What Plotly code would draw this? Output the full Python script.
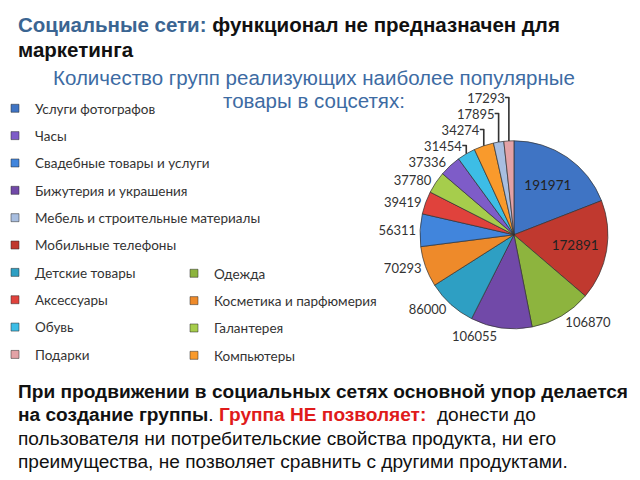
import plotly.graph_objects as go

# ---- data ----
categories = [
    "Услуги фотографов", "Мобильные телефоны", "Одежда", "Бижутерия и украшения",
    "Детские товары", "Косметика и парфюмерия", "Свадебные товары и услуги",
    "Аксессуары", "Галантерея", "Часы", "Обувь", "Компьютеры",
    "Мебель и строительные материалы", "Подарки",
]
values = [191971, 172891, 106870, 106055, 86000, 70293, 56311,
          39419, 37780, 37336, 31454, 34274, 17895, 17293]
legend_left = [
    "Услуги фотографов", "Часы", "Свадебные товары и услуги",
    "Бижутерия и украшения", "Мебель и строительные материалы",
    "Мобильные телефоны", "Детские товары", "Аксессуары", "Обувь", "Подарки",
]
legend_right = ["Одежда", "Косметика и парфюмерия", "Галантерея", "Компьютеры"]

# ---- style ----
slice_colors = ["#3F74C4", "#C0392F", "#8DB43E", "#7149A8", "#2E9FC3", "#EE8A2A",
                "#4185DC", "#E0423C", "#A6CD4C", "#7E5CC8", "#3DBDE6", "#F99A2C",
                "#A8BEE0", "#E3A2A6"]
color_of = dict(zip(categories, slice_colors))
positions = ["inside" if v > 150000 else "outside" for v in values]

fig = go.Figure()
fig.add_trace(go.Pie(
    labels=categories, values=values, sort=False, direction="clockwise",
    rotation=0, marker=dict(colors=slice_colors, line=dict(color="rgba(50,50,50,0.7)", width=1)),
    texttemplate="%{value:d}", textposition=positions,
    insidetextorientation="horizontal",
    insidetextfont=dict(family="Lato", size=13.5, color="#222"),
    outsidetextfont=dict(family="Lato", size=13, color="#333"),
    domain=dict(x=[0.6437, 0.9374], y=[0.3317, 0.7234]),
    showlegend=False, hoverinfo="label+value",
))

for i, name in enumerate(legend_left):
    fig.add_trace(go.Scatter(x=[None], y=[None], mode="markers", name=name,
                             legendgroup="L%d" % i, legend="legend",
                             marker=dict(symbol="square", size=8, color=color_of[name],
                                         line=dict(color="rgba(40,40,40,0.5)", width=1))))
for i, name in enumerate(legend_right):
    fig.add_trace(go.Scatter(x=[None], y=[None], mode="markers", name=name,
                             legendgroup="R%d" % i, legend="legend2",
                             marker=dict(symbol="square", size=8, color=color_of[name],
                                         line=dict(color="rgba(40,40,40,0.5)", width=1))))

leg_common = dict(font=dict(family="Lato", size=13.5, color="#333"), bgcolor="rgba(0,0,0,0)",
                  tracegroupgap=6.8, itemwidth=30, xanchor="left", yanchor="top")
fig.update_layout(
    width=640, height=480,
    margin=dict(l=0, r=0, t=0, b=0, autoexpand=False),
    paper_bgcolor="white", plot_bgcolor="white",
    xaxis=dict(visible=False), yaxis=dict(visible=False),
    legend=dict(x=-13 / 640, y=1 - 85 / 480, **leg_common),
    legend2=dict(x=166 / 640, y=1 - 250 / 480, **leg_common),
)


def line(text, x, y, size, color="#111", anchor="left"):
    fig.add_annotation(xref="paper", yref="paper", x=x / 640, y=1 - y / 480,
                       xanchor=anchor, yanchor="middle", showarrow=False, text=text,
                       font=dict(family="Liberation Sans", size=size, color=color))


line("<b><span style='color:#3B6592'>Социальные сети:</span> функционал не предназначен для</b>",
     8, 17, 20.5)
line("<b>маркетинга</b>", 8, 41, 20.5)
line("Количество групп реализующих наиболее популярные", 306, 69, 20.5, "#3D6BA3", "center")
line("товары в соцсетях:", 306, 92, 20.5, "#3D6BA3", "center")
line("<b>При продвижении в социальных сетях основной упор делается</b>", 8, 383, 19.1)
line("<b>на создание группы</b>. <b><span style='color:#E01B1B'>Группа НЕ позволяет:</span></b>  донести до",
     8, 406, 19.1)
line("пользователя ни потребительские свойства продукта, ни его", 8, 430, 19.1)
line("преимущества, не позволяет сравнить с другими продуктами.", 8, 453, 19.1)

fig.write_html("out.html")
